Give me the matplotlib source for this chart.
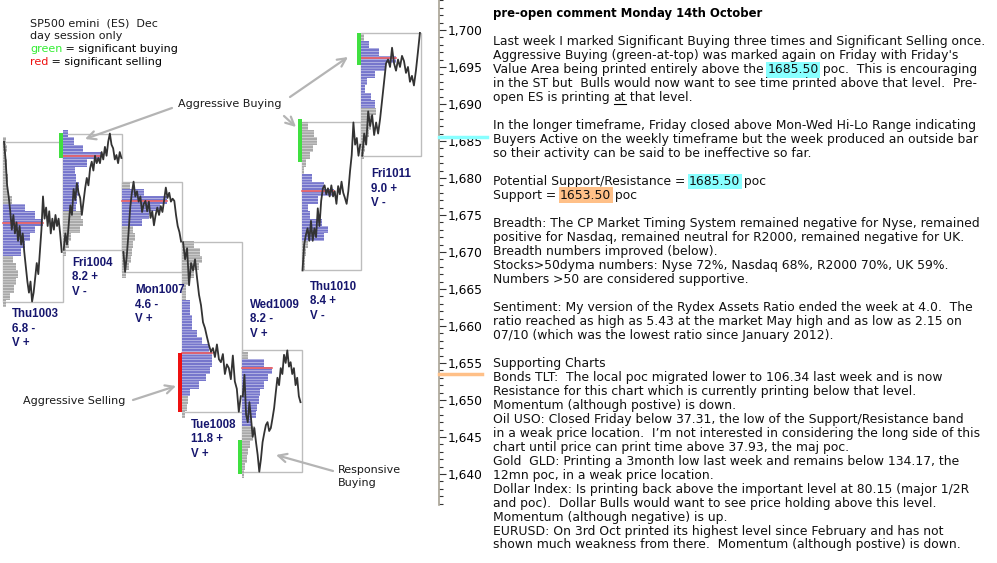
import numpy as np
import matplotlib
matplotlib.use("Agg")
import matplotlib.pyplot as plt
from matplotlib.ticker import MultipleLocator, FuncFormatter

plt.rcParams['font.family'] = ['DejaVu Sans']
plt.rcParams['hatch.linewidth'] = 0.3

W, H = 997, 563

# ---- data ----
days = ["Thu1003", "Fri1004", "Mon1007", "Tue1008", "Wed1009", "Thu1010", "Fri1011"]
day_range = ["6.8 -", "8.2 +", "4.6 -", "11.8 +", "8.2 -", "8.4 +", "9.0 +"]
day_vol = ["V +", "V -", "V +", "V +", "V +", "V -", "V -"]

thu1003 = [1684.9, 1682.5, 1679.0, 1677.5, 1675.5, 1673.0, 1675.0, 1672.5, 1674.0, 1671.5,
           1673.5, 1671.0, 1672.5, 1670.0, 1668.0, 1666.0, 1664.5, 1666.0, 1663.3, 1664.5,
           1666.5, 1668.5, 1667.0, 1670.0, 1673.0, 1677.5, 1674.5, 1676.0, 1673.5, 1675.5,
           1672.5, 1674.5, 1673.0, 1675.0, 1673.5, 1674.5, 1672.5, 1670.0]
fri1004 = [1670.3, 1672.5, 1671.0, 1673.6, 1676.3, 1675.0, 1678.5, 1677.0, 1679.3, 1678.0,
           1677.3, 1675.0, 1676.8, 1678.6, 1680.0, 1679.0, 1681.3, 1682.2, 1681.0, 1683.0,
           1682.0, 1682.7, 1682.0, 1683.5, 1682.5, 1684.2, 1683.0, 1684.9, 1686.0, 1684.5,
           1684.0, 1682.5, 1683.1, 1682.0, 1683.5, 1682.7]
mon1007 = [1670.0, 1667.3, 1669.5, 1672.5, 1676.0, 1678.0, 1679.5, 1677.5, 1678.2, 1676.8,
           1677.5, 1675.4, 1676.5, 1676.9, 1675.5, 1676.8, 1674.6, 1675.5, 1673.6, 1675.0,
           1676.0, 1675.0, 1676.2, 1675.4, 1677.0, 1678.7, 1677.3, 1678.0, 1676.8, 1677.2,
           1676.9, 1675.0, 1673.5, 1672.7, 1671.4]
tue1008 = [1671.3, 1669.0, 1670.5, 1665.5, 1668.5, 1667.5, 1669.0, 1666.5, 1664.2, 1662.8,
           1660.5, 1659.7, 1658.5, 1657.4, 1656.5, 1657.0, 1655.8, 1657.5, 1655.5, 1655.1,
           1656.2, 1653.5, 1654.8, 1654.3, 1652.8, 1656.0, 1652.5, 1651.5, 1648.4, 1650.5]
wed1009 = [1650.5, 1653.4, 1648.0, 1647.0, 1649.7, 1647.5, 1645.0, 1646.2, 1644.3, 1642.6,
           1640.3, 1642.0, 1644.3, 1645.5, 1646.6, 1647.0, 1645.8, 1646.2, 1647.5, 1648.9,
           1651.0, 1653.0, 1652.0, 1654.3, 1653.5, 1656.1, 1655.0, 1656.7, 1654.5, 1655.1,
           1653.5, 1654.3, 1652.0, 1653.0, 1650.5, 1649.7]
thu1010 = [1667.5, 1671.0, 1672.3, 1673.2, 1671.5, 1674.2, 1671.5, 1673.2, 1672.0, 1675.9,
           1673.5, 1676.9, 1678.6, 1679.0, 1677.8, 1678.6, 1677.5, 1679.0, 1677.5, 1678.2,
           1676.5, 1678.9, 1677.8, 1679.5, 1678.0, 1677.3, 1676.5, 1678.2, 1680.9, 1683.1,
           1687.5, 1684.5, 1685.4, 1683.0, 1684.5]
fri1011 = [1683.0, 1686.0, 1684.5, 1689.0, 1687.0, 1688.5, 1685.8, 1687.5, 1686.0, 1688.0,
           1690.5, 1693.0, 1695.5, 1696.0, 1695.0, 1697.6, 1695.5, 1694.5, 1696.0, 1695.0,
           1696.5, 1695.8, 1694.2, 1695.0, 1693.0, 1693.8, 1692.5, 1694.5, 1697.0, 1699.6]
traces = [thu1003, fri1004, mon1007, tue1008, wed1009, thu1010, fri1011]

# volume profiles: lowest price level and widths per 1-point level (low -> high)
prof_low = [1663, 1670, 1667, 1648, 1640, 1668, 1683]
prof_widths = [
    [3, 7, 11, 13, 15, 13, 10, 18, 22, 27, 32, 40, 32, 22, 9, 5, 4, 5, 4, 4, 3, 4, 3],
    [3, 6, 8, 17, 20, 18, 13, 14, 16, 16, 13, 12, 24, 38, 20, 11, 5],
    [4, 7, 9, 10, 11, 13, 11, 20, 27, 38, 45, 22, 8],
    [3, 5, 6, 8, 17, 24, 28, 30, 30, 27, 20, 15, 10, 10, 8, 8, 4, 4, 6, 12, 17, 20, 18, 12],
    [2, 3, 5, 6, 8, 11, 13, 10, 14, 15, 17, 18, 22, 26, 30, 22, 6],
    [3, 3, 4, 6, 22, 26, 20, 8, 6, 16, 32, 22, 10, 2, 4, 8, 11, 15, 12, 6],
    [3, 4, 6, 8, 10, 12, 15, 14, 10, 4, 6, 14, 25, 35, 18, 8, 3],
]
va_low = [1670, 1676, 1674, 1651, 1647, 1672, 1690]
va_high = [1676, 1686, 1678, 1663, 1655, 1680, 1698]
poc = [1673.9, 1683.0, 1676.9, 1656.4, 1654.3, 1678.2, 1696.2]

# significant buying / selling marks
sig_day = [1, 3, 4, 5, 6]
sig_low = [1682.7, 1648.4, 1640.0, 1682.1, 1695.3]
sig_high = [1686.1, 1656.4, 1644.6, 1687.9, 1699.6]
sig_kind = ["buy", "sell", "buy", "buy", "buy"]

level_res = 1685.5
level_sup = 1653.5

fig = plt.figure(figsize=(W / 100, H / 100), dpi=100)
ax = fig.add_axes([0, 58 / H, 439 / W, 505 / H])
ax.set_xlim(0, 439)
ax.set_ylim(1635.8, 1704.05)
ax.patch.set_alpha(0)

day_w = 59.7
for k, name in enumerate(days):
    x0 = 3 + k * day_w
    lv = prof_low[k] + np.arange(len(prof_widths[k]))
    wd = np.array(prof_widths[k])
    inva = (lv >= va_low[k]) & (lv <= va_high[k])
    ax.barh(lv[~inva], wd[~inva], left=x0, height=1.0, color="#a9a9a9",
            edgecolor="white", lw=0, hatch="------", zorder=1)
    ax.barh(lv[inva], wd[inva], left=x0, height=1.0, color="#7676cc",
            edgecolor="white", lw=0, hatch="------", zorder=1)
    ax.plot([x0, x0 + wd.max()], [poc[k], poc[k]], color="#f06060", lw=1.2, zorder=2)
    tr = traces[k]
    xs = x0 + np.linspace(1, day_w - 1, len(tr))
    ax.plot(xs, tr, color="#333333", lw=1.3, zorder=3)
    ax.add_patch(plt.Rectangle((x0, min(tr)), day_w, max(tr) - min(tr), fill=False,
                               edgecolor="#bdbdbd", lw=1.0, zorder=0))

for d, lo, hi, kind in zip(sig_day, sig_low, sig_high, sig_kind):
    x0 = 3 + d * day_w
    ax.bar(x0 - 2, hi - lo, bottom=lo, width=4,
           color="#40e040" if kind == "buy" else "#ee1111", zorder=4)

ax.plot([439, 487], [level_res, level_res], color="#88ffff", lw=2.5, clip_on=False, zorder=5)
ax.plot([439, 482], [level_sup, level_sup], color="#ffc088", lw=2.5, clip_on=False, zorder=5)

for s in ["left", "top", "bottom"]:
    ax.spines[s].set_visible(False)
ax.spines["right"].set_color("#a8a294")
ax.spines["right"].set_linewidth(1.2)
ax.set_xticks([])
ax.yaxis.tick_right()
ax.yaxis.set_major_locator(MultipleLocator(5))
ax.yaxis.set_minor_locator(MultipleLocator(1))
ax.yaxis.set_major_formatter(FuncFormatter(lambda v, p: f"{v:,.0f}"))
ax.tick_params(axis="y", which="major", length=5, width=0.8, color="#333333",
               labelsize=8.8, pad=1)
ax.tick_params(axis="y", which="minor", length=3.2, width=0.8, color="#333333")


def ftext(x, y, s, **kw):
    return fig.text(x / W, 1 - y / H, s, **kw)


# day labels
label_pos = [(12, 314), (72, 263), (135, 290), (191, 425), (250, 305), (310, 287), (371, 174)]
for (lx, ly), name, r, v in zip(label_pos, days, day_range, day_vol):
    for i, s in enumerate([name, r, v]):
        ftext(lx, ly + i * 14.5, s, fontsize=8.3, fontweight="bold", color="#16166e",
              va="center", family="Liberation Sans")

# annotations
arrow = dict(arrowstyle="->,head_length=0.6,head_width=0.3", color="#b4b4b4", lw=1.6,
             shrinkA=0, shrinkB=0)


def arr(x1, y1, x2, y2):
    ax.annotate("", xy=(x2 / W, 1 - y2 / H), xycoords="figure fraction",
                xytext=(x1 / W, 1 - y1 / H), textcoords="figure fraction", arrowprops=arrow)


ftext(178, 104, "Aggressive Buying", fontsize=8, color="#1a1a1a", va="center")
arr(172, 108, 85, 139)
arr(284, 116, 296, 127)
arr(290, 97, 348, 57)
ftext(23, 401, "Aggressive Selling", fontsize=8, color="#1a1a1a", va="center")
arr(133, 400, 176, 386)
ftext(338, 470, "Responsive", fontsize=8, color="#1a1a1a", va="center")
ftext(338, 483, "Buying", fontsize=8, color="#1a1a1a", va="center")
arr(333, 471, 276, 455)

renderer = fig.canvas.get_renderer()


def text_width(s, **kw):
    t = fig.text(0, 0, s + "|", **kw)
    w1 = t.get_window_extent(renderer).width
    t.remove()
    t = fig.text(0, 0, "|", **kw)
    w2 = t.get_window_extent(renderer).width
    t.remove()
    return w1 - w2


def rich_line(x, y, parts, **kw):
    prefix = ""
    for s, style in parts:
        xs = x + (text_width(prefix, **kw) if prefix else 0)
        st = dict(style)
        under = st.pop("underline", False)
        ftext(xs, y, s, va="center", **kw, **st)
        if under:
            w = text_width(s, **kw)
            fig.add_artist(plt.Line2D([xs / W, (xs + w) / W], [1 - (y + 6) / H] * 2,
                                      color="#000000", lw=0.8))
        prefix += s


# legend block top-left
lk = dict(fontsize=8, color="#1a1a1a")
ftext(30, 23, "SP500 emini  (ES)  Dec", va="center", **lk)
ftext(30, 36, "day session only", va="center", **lk)
rich_line(30, 49, [("green", {"color": "#33ee33"}), (" = significant buying", {})],
          fontsize=8)
rich_line(30, 62, [("red", {"color": "#ee1111"}), (" = significant selling", {})],
          fontsize=8)

# commentary panel
cyan = {"bbox": dict(boxstyle="square,pad=0.12", facecolor="#88ffff", edgecolor="none")}
orange = {"bbox": dict(boxstyle="square,pad=0.12", facecolor="#ffc088", edgecolor="none")}
body = [
    "Last week I marked Significant Buying three times and Significant Selling once.",
    "Aggressive Buying (green-at-top) was marked again on Friday with Friday's",
    [("Value Area being printed entirely above the ", {}), ("1685.50", cyan),
     (" poc.  This is encouraging", {})],
    "in the ST but  Bulls would now want to see time printed above that level.  Pre-",
    [("open ES is printing ", {}), ("at", {"underline": True}), (" that level.", {})],
    "",
    "In the longer timeframe, Friday closed above Mon-Wed Hi-Lo Range indicating",
    "Buyers Active on the weekly timeframe but the week produced an outside bar",
    "so their activity can be said to be ineffective so far.",
    "",
    [("Potential Support/Resistance = ", {}), ("1685.50", cyan), (" poc", {})],
    [("Support = ", {}), ("1653.50", orange), (" poc", {})],
    "",
    "Breadth: The CP Market Timing System remained negative for Nyse, remained",
    "positive for Nasdaq, remained neutral for R2000, remained negative for UK.",
    "Breadth numbers improved (below).",
    "Stocks>50dyma numbers: Nyse 72%, Nasdaq 68%, R2000 70%, UK 59%.",
    "Numbers >50 are considered supportive.",
    "",
    "Sentiment: My version of the Rydex Assets Ratio ended the week at 4.0.  The",
    "ratio reached as high as 5.43 at the market May high and as low as 2.15 on",
    "07/10 (which was the lowest ratio since January 2012).",
    "",
    "Supporting Charts",
    "Bonds TLT:  The local poc migrated lower to 106.34 last week and is now",
    "Resistance for this chart which is currently printing below that level.",
    "Momentum (although postive) is down.",
    "Oil USO: Closed Friday below 37.31, the low of the Support/Resistance band",
    "in a weak price location.  I\u2019m not interested in considering the long side of this",
    "chart until price can print time above 37.93, the maj poc.",
    "Gold  GLD: Printing a 3month low last week and remains below 134.17, the",
    "12mn poc, in a weak price location.",
    "Dollar Index: Is printing back above the important level at 80.15 (major 1/2R",
    "and poc).  Dollar Bulls would want to see price holding above this level.",
    "Momentum (although negative) is up.",
    "EURUSD: On 3rd Oct printed its highest level since February and has not",
    "shown much weakness from there.  Momentum (although postive) is down.",
]

tx = 493
ftext(tx, 14, "pre-open comment Monday 14th October", fontsize=8.4, fontweight="bold",
      color="#000000", va="center")
bk = dict(fontsize=8.95, color="#111111")
for i, line in enumerate(body):
    y = 41.7 + i * 13.98
    if isinstance(line, list):
        rich_line(tx, y, line, **bk)
    elif line:
        ftext(tx, y, line, va="center", **bk)

fig.savefig("out.png", dpi=100)
